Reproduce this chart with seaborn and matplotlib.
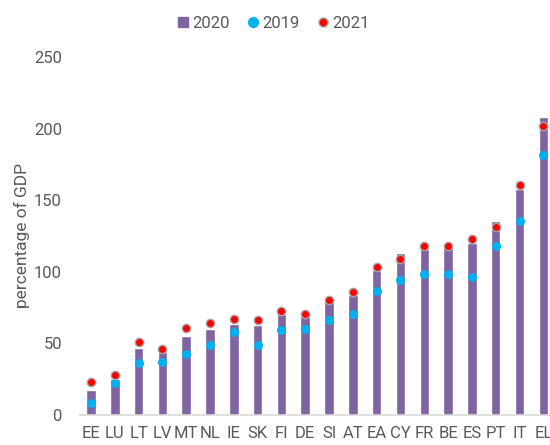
import pandas as pd
import matplotlib
matplotlib.use('Agg')
import matplotlib.pyplot as plt
from matplotlib.lines import Line2D
import seaborn as sns

# Dados
paises = ['EE', 'LU', 'LT', 'LV', 'MT', 'NL', 'IE', 'SK', 'FI', 'DE',
          'SI', 'AT', 'EA', 'CY', 'FR', 'BE', 'ES', 'PT', 'IT', 'EL']
divida_2020 = [17.5, 25.0, 47.1, 44.0, 55.5, 59.9, 63.4, 63.1, 70.2, 69.0,
               79.5, 84.0, 101.5, 112.9, 116.0, 117.0, 120.0, 135.2, 158.0, 207.8]
divida_2019 = [8.5, 22.4, 36.0, 37.3, 42.7, 49.0, 58.1, 49.0, 59.7, 60.4,
               66.1, 70.7, 86.6, 94.5, 98.7, 98.5, 96.1, 117.7, 135.2, 181.3]
divida_2021 = [22.7, 28.0, 51.3, 46.4, 60.6, 63.9, 66.7, 66.2, 72.3, 70.7,
               80.5, 85.9, 103.1, 108.7, 118.2, 118.2, 122.6, 131.3, 160.3, 201.6]

df = pd.DataFrame({'pais': paises, '2020': divida_2020,
                   '2019': divida_2019, '2021': divida_2021})

roxo = '#8064A2'
azul = '#00B0F0'
vermelho = '#FF0000'
cinza = '#595959'

sns.set_style('white')
plt.rcParams['font.family'] = ['Roboto', 'DejaVu Sans']

fig = plt.figure(figsize=(5.5, 4.45), dpi=100)
ax = fig.add_axes([80 / 550, 30 / 445, 470 / 550, 358 / 445])

sns.barplot(data=df, x='pais', y='2020', order=paises, color=roxo,
            width=0.4, saturation=1, ax=ax)
sns.stripplot(data=df, x='pais', y='2019', order=paises, color=azul,
              jitter=False, size=6.5, linewidth=0, ax=ax, zorder=3)
sns.stripplot(data=df, x='pais', y='2021', order=paises, color=vermelho,
              jitter=False, size=6, linewidth=1, edgecolor='#a6a6a6',
              ax=ax, zorder=4)

ax.set_xlim(-0.46, 19.28)
ax.set_ylim(0, 250)
ax.set_yticks(range(0, 251, 50))
ax.set_xlabel('')
ax.set_ylabel('percentage of GDP', color=cinza, fontsize=12.5, labelpad=3)
ax.tick_params(axis='y', colors=cinza, labelsize=12, length=0, pad=13)
ax.tick_params(axis='x', colors=cinza, labelsize=12, length=0, pad=8)

for lado in ['top', 'right', 'left']:
    ax.spines[lado].set_visible(False)
ax.spines['bottom'].set_color('#d9d9d9')
ax.spines['bottom'].set_linewidth(1.2)

handles = [
    Line2D([], [], marker='s', linestyle='none', color=roxo, markersize=7),
    Line2D([], [], marker='o', linestyle='none', color=azul, markersize=7),
    Line2D([], [], marker='o', linestyle='none', markerfacecolor=vermelho,
           markeredgecolor='#a6a6a6', markersize=6.5),
]
leg = fig.legend(handles, ['2020', '2019', '2021'], loc='center',
                 bbox_to_anchor=(272 / 550, 1 - 23 / 445), ncol=3,
                 frameon=False, fontsize=12, handletextpad=0.05,
                 columnspacing=0.9, handlelength=1.0)
for t in leg.get_texts():
    t.set_color(cinza)

fig.savefig('out.png', dpi=100)
